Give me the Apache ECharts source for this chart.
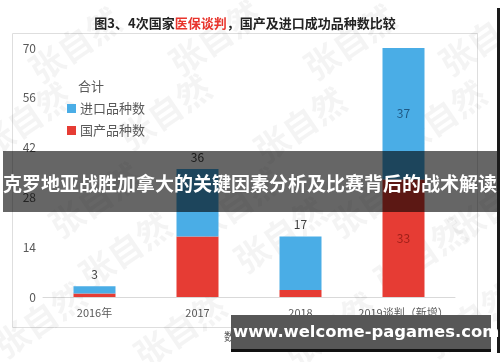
<!DOCTYPE html>
<html>
<head>
<meta charset="utf-8">
<script src="https://cdn.jsdelivr.net/npm/echarts@6/dist/echarts.min.js"></script>
<style>
html,body{margin:0;padding:0;background:#fff;}
#c{width:500px;height:362px;}
</style>
</head>
<body>
<div id="c"></div>
<script>
const categories = ['2016年', '2017', '2018', '2019谈判（新增）'];
const importedCounts = [2, 19, 15, 37];
const domesticCounts = [1, 17, 2, 33];
const totals = [3, 36, 17, 70];
const yMin = 0, yMax = 70, yStep = 14;

const FONT = '"Noto Sans CJK SC","Microsoft YaHei",sans-serif';
const BLUE = '#4aade6';
const RED = '#e63c34';

const chart = echarts.init(document.getElementById('c'), null, {renderer: 'canvas'});

const importedData = importedCounts.map((v, i) => {
  if (i === categories.length - 1) {
    return {value: v, label: {show: true, position: 'inside', color: '#1f5a86', formatter: '{c}'}};
  }
  return {value: v};
});
const domesticData = domesticCounts.map((v, i) => {
  if (i === categories.length - 1) {
    return {value: v, label: {show: true, position: 'inside', color: '#9e1f18', formatter: '{c}'}};
  }
  return {value: v};
});

// watermark tiles
const wmPos = [
  [75, 45], [215, 38], [350, 42], [485, 38],
  [25, 120], [165, 112], [300, 125], [440, 118],
  [95, 200], [235, 205], [375, 200], [495, 205],
  [125, 250], [280, 235], [420, 255],
  [40, 320], [180, 330], [330, 330], [470, 320]
];
const wmGraphics = wmPos.map(p => ({
  type: 'text', x: p[0], y: p[1], rotation: 0.6, z: 1, silent: true,
  style: {text: '张自然', fill: 'rgba(0,0,0,0.045)', font: 'bold 34px ' + FONT, textAlign: 'center', textVerticalAlign: 'middle'}
}));

const option = {
  backgroundColor: '#fff',
  animation: false,
  grid: {left: 43, right: 45, top: 48, bottom: 65},
  legend: {
    data: ['进口品种数', '国产品种数'],
    orient: 'vertical', left: 62, top: 97, itemWidth: 9, itemHeight: 9, itemGap: 9,
    icon: 'rect',
    textStyle: {fontSize: 13, color: '#595959', fontFamily: FONT, padding: [0, 0, 0, -1]}
  },
  xAxis: {
    type: 'category', data: categories,
    axisLine: {lineStyle: {color: '#d9d9d9'}},
    axisTick: {show: false},
    axisLabel: {color: '#595959', fontSize: 11, fontFamily: FONT, margin: 10, interval: 0}
  },
  yAxis: {
    type: 'value', min: yMin, max: yMax, interval: yStep,
    splitLine: {show: false},
    axisLine: {show: false}, axisTick: {show: false},
    axisLabel: {color: '#595959', fontSize: 12, fontFamily: FONT, margin: 7}
  },
  series: [
    {
      name: '国产品种数', type: 'bar', stack: 'total', barWidth: 42,
      itemStyle: {color: RED},
      label: {show: false, fontSize: 12, fontFamily: FONT},
      data: domesticData, z: 3
    },
    {
      name: '进口品种数', type: 'bar', stack: 'total', barWidth: 42,
      itemStyle: {color: BLUE},
      label: {
        show: true, position: 'top', distance: 6, fontSize: 12, color: '#404040', fontFamily: FONT,
        formatter: p => String(totals[p.dataIndex])
      },
      data: importedData, z: 3
    }
  ],
  graphic: [
    {type: 'rect', shape: {x: 12.5, y: 33.5, width: 465, height: 294}, z: 0, silent: true,
     style: {fill: 'none', stroke: '#dedede', lineWidth: 1}},
    ...wmGraphics,
    {type: 'text', x: 245, y: 23, z: 5,
     style: {
       rich: {
         a: {fontSize: 13, fontWeight: 'bold', fill: '#222', fontFamily: FONT},
         r: {fontSize: 13, fontWeight: 'bold', fill: '#e8342c', fontFamily: FONT}
       },
       text: '{a|图3、4次国家}{r|医保谈判}{a|，国产及进口成功品种数比较}',
       textAlign: 'center', textVerticalAlign: 'middle'
     }},
    {type: 'text', x: 78, y: 86, z: 5,
     style: {text: '合计', fill: '#595959', font: '13px ' + FONT, textVerticalAlign: 'middle'}},
    {type: 'text', x: 224, y: 337, z: 5,
     style: {text: '数据来源：国家医保局', fill: '#595959', font: '11px ' + FONT, textVerticalAlign: 'middle'}},
    {type: 'rect', shape: {x: 3, y: 151, width: 494, height: 61}, z: 50, silent: true,
     style: {fill: 'rgba(0,0,0,0.6)'}},
    {type: 'text', x: 250, y: 184, z: 51,
     style: {text: '克罗地亚战胜加拿大的关键因素分析及比赛背后的战术解读', fill: '#fff',
             font: 'bold 19px ' + FONT, textAlign: 'center', textVerticalAlign: 'middle'}},
    {type: 'rect', shape: {x: 231, y: 315, width: 260, height: 35}, z: 50, silent: true,
     style: {fill: '#575757'}},
    {type: 'rect', shape: {x: 231, y: 349, width: 260, height: 3}, z: 50, silent: true,
     style: {fill: '#111'}},
    {type: 'text', x: 233, y: 333, z: 51,
     style: {text: 'www.welcome-pagames.com', fill: '#fff',
             font: 'bold 16.4px "DejaVu Sans",sans-serif', textVerticalAlign: 'middle'}},
    {type: 'rect', shape: {x: 497, y: 8, width: 3, height: 345}, z: 50, silent: true,
     style: {fill: '#1a1a1a'}}
  ]
};
chart.setOption(option);
</script>
</body>
</html>
